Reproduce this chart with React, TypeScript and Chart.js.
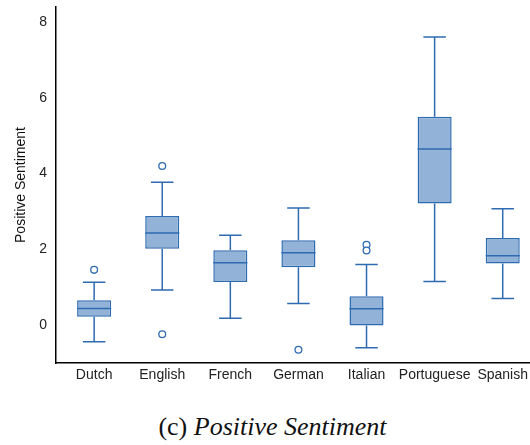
import React, { useEffect, useRef } from "react";
import { Chart, registerables } from "chart.js";

Chart.register(...registerables);

// Languages on the x axis
const languages = ["Dutch", "English", "French", "German", "Italian", "Portuguese", "Spanish"];

// Five-number summaries per language
const whiskerLow = [-0.44, 0.93, 0.18, 0.57, -0.6, 1.15, 0.7];
const quartile1 = [0.22, 2.02, 1.14, 1.53, -0.01, 3.21, 1.63];
const medians = [0.44, 2.43, 1.65, 1.91, 0.43, 4.65, 1.83];
const quartile3 = [0.66, 2.88, 1.98, 2.24, 0.76, 5.5, 2.3];
const whiskerHigh = [1.13, 3.77, 2.37, 3.09, 1.6, 7.61, 3.07];

// Points beyond the whiskers
const outlierLanguages = ["Dutch", "English", "English", "German", "Italian", "Italian"];
const outlierValues = [1.46, 4.2, -0.24, -0.65, 2.12, 1.97];

// Y axis ticks
const yTicks = [0, 2, 4, 6, 8];

const BOX_FILL = "#92b3d7";
const BOX_LINE = "#2e6bb1";

const whiskerPlugin = {
  id: "whiskers",
  afterDatasetsDraw(chart: any) {
    const { ctx } = chart;
    const x = chart.scales.x;
    const y = chart.scales.y;
    const boxes = chart.getDatasetMeta(0).data;
    ctx.save();
    ctx.strokeStyle = BOX_LINE;
    ctx.lineWidth = 1.5;
    languages.forEach((_, i) => {
      const cx = x.getPixelForValue(i);
      const half = boxes[i] ? boxes[i].width / 2 : 17;
      const cap = half * 0.66;
      const yLow = y.getPixelForValue(whiskerLow[i]);
      const yQ1 = y.getPixelForValue(quartile1[i]);
      const yMed = y.getPixelForValue(medians[i]);
      const yQ3 = y.getPixelForValue(quartile3[i]);
      const yHigh = y.getPixelForValue(whiskerHigh[i]);
      ctx.beginPath();
      // whiskers
      ctx.moveTo(cx, yQ3);
      ctx.lineTo(cx, yHigh);
      ctx.moveTo(cx, yQ1);
      ctx.lineTo(cx, yLow);
      // caps
      ctx.moveTo(cx - cap, yHigh);
      ctx.lineTo(cx + cap, yHigh);
      ctx.moveTo(cx - cap, yLow);
      ctx.lineTo(cx + cap, yLow);
      // median
      ctx.moveTo(cx - half, yMed);
      ctx.lineTo(cx + half, yMed);
      ctx.stroke();
    });
    ctx.restore();
  },
};

export default function App() {
  const canvasRef = useRef<HTMLCanvasElement>(null);

  useEffect(() => {
    if (!canvasRef.current) return;
    const font = { family: "'Liberation Sans', Arial, sans-serif", size: 14 };
    const chart = new Chart(canvasRef.current, {
      type: "bar",
      data: {
        datasets: [
          {
            type: "bar",
            data: languages.map((_, i) => ({ x: i, y: [quartile1[i], quartile3[i]] })) as any,
            backgroundColor: BOX_FILL,
            borderColor: BOX_LINE,
            borderWidth: 1.5,
            borderSkipped: false,
            barPercentage: 0.5,
            categoryPercentage: 1,
            order: 2,
          },
          {
            type: "line",
            data: outlierLanguages.map((l, i) => ({ x: languages.indexOf(l), y: outlierValues[i] })) as any,
            showLine: false,
            pointStyle: "circle",
            pointRadius: 3.4,
            pointBorderWidth: 1.3,
            pointBorderColor: BOX_LINE,
            pointBackgroundColor: "#ffffff",
            order: 1,
          },
        ],
      },
      options: {
        responsive: false,
        animation: false,
        events: [],
        devicePixelRatio: 1,
        layout: { padding: { top: 7, right: 8, left: 0, bottom: 0 } },
        plugins: { legend: { display: false }, tooltip: { enabled: false } },
        scales: {
          x: {
            type: "linear",
            min: -0.56,
            max: 6.43,
            offset: false,
            grid: { display: false, drawTicks: false },
            border: { display: true, color: "#000000", width: 1.5 },
            afterBuildTicks: (s: any) => {
              s.ticks = languages.map((_, i) => ({ value: i }));
            },
            ticks: {
              color: "#222222",
              padding: 4,
              font,
              maxRotation: 0,
              autoSkip: false,
              callback: (v: any) => languages[Number(v)] ?? "",
            },
            afterFit: (s: any) => {
              s.height = 37;
              s.paddingLeft = 0;
              s.paddingRight = 0;
            },
          },
          y: {
            type: "linear",
            min: -1,
            max: 8.4,
            grid: { display: false, drawTicks: false },
            border: { display: true, color: "#000000", width: 1.5 },
            afterBuildTicks: (s: any) => {
              s.ticks = yTicks.map((v) => ({ value: v }));
            },
            ticks: {
              color: "#222222",
              padding: 9,
              font,
            },
            title: {
              display: true,
              text: "Positive Sentiment",
              color: "#111111",
              padding: { top: 13, bottom: 0 },
              font,
            },
            afterFit: (s: any) => {
              s.width = 56;
              s.paddingTop = 0;
              s.paddingBottom = 0;
            },
          },
        },
      },
      plugins: [whiskerPlugin],
    });
    return () => chart.destroy();
  }, []);

  return (
    <div
      style={{
        position: "fixed",
        left: 0,
        top: 0,
        width: 530,
        height: 445,
        overflow: "hidden",
        background: "#ffffff",
      }}
    >
      <canvas ref={canvasRef} width={540} height={400} style={{ display: "block", width: 540, height: 400 }} />
      <div
        style={{
          position: "absolute",
          left: 0,
          top: 414,
          width: 545,
          textAlign: "center",
          fontFamily: "'Liberation Serif', 'Times New Roman', serif",
          fontSize: 26,
          lineHeight: "26px",
          color: "#111111",
          whiteSpace: "nowrap",
        }}
      >
        (c) <i>Positive Sentiment</i>
      </div>
    </div>
  );
}
